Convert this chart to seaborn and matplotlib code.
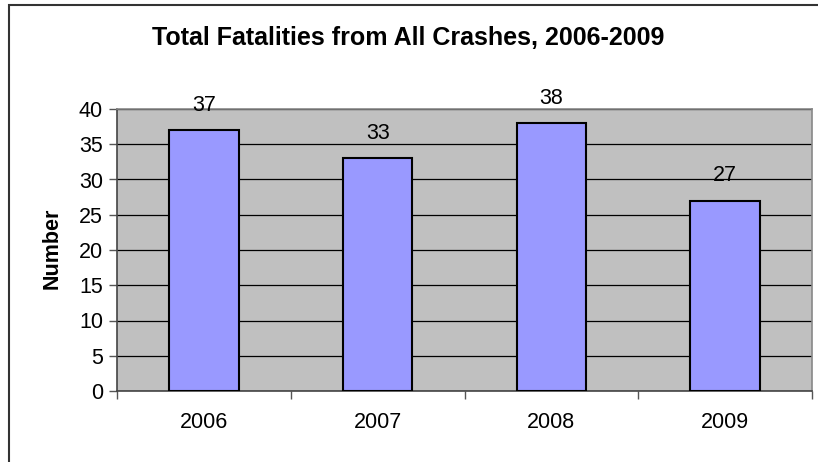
import matplotlib
matplotlib.use("Agg")
import matplotlib.pyplot as plt
import seaborn as sns
import pandas as pd
from matplotlib.patches import Rectangle
from matplotlib.ticker import FixedLocator

years = ["2006", "2007", "2008", "2009"]
fatalities = [37, 33, 38, 27]
yticks = [0, 5, 10, 15, 20, 25, 30, 35, 40]

sns.set_style("white")
plt.rcParams["font.family"] = ["Liberation Sans", "DejaVu Sans"]
plt.rcParams["text.color"] = "black"
plt.rcParams["axes.labelcolor"] = "black"
plt.rcParams["xtick.labelcolor"] = "black"
plt.rcParams["ytick.labelcolor"] = "black"

df = pd.DataFrame({"Year": years, "Number": fatalities})

fig = plt.figure(figsize=(8.18, 4.62), dpi=100)
ax = fig.add_axes([117/818, 1-391/462, (812-117)/818, (391-109)/462])
ax.set_facecolor("#C0C0C0")

sns.barplot(data=df, x="Year", y="Number", color="#9999FF", width=0.40,
            edgecolor="black", linewidth=1.5, saturation=1, ax=ax, zorder=3)

ax.set_ylim(0, 40)
ax.set_xlim(-0.5, 3.5)
ax.set_yticks(yticks)
ax.yaxis.grid(True, color="#000000", linewidth=0.9, zorder=1)
ax.set_axisbelow(True)
ax.tick_params(axis="y", which="major", direction="out", length=6, width=1,
               color="#555555", labelsize=15.5, pad=4, left=True,
               labelcolor="black")
ax.tick_params(axis="x", which="major", length=0, labelsize=15.5, pad=15,
               labelcolor="black")
ax.xaxis.set_minor_locator(FixedLocator([-0.5, 0.5, 1.5, 2.5, 3.5]))
ax.tick_params(axis="x", which="minor", direction="out", length=6, width=1,
               color="#555555", bottom=True)

for side in ["top", "right"]:
    ax.spines[side].set_color("#888888")
    ax.spines[side].set_linewidth(1.2)
for side in ["left", "bottom"]:
    ax.spines[side].set_color("#444444")
    ax.spines[side].set_linewidth(1.2)

ax.set_xlabel("")
ax.set_ylabel("Number", fontsize=15.5, fontweight="bold", color="black")
ax.yaxis.label.set_va("center")
ax.yaxis.set_label_coords((52 - 117) / 695, (391 - 248) / 282)

for i, v in enumerate(fatalities):
    ax.annotate(str(v), xy=(i, v), xytext=(0, 18), textcoords="offset points",
                ha="center", va="center", fontsize=15.5, color="black", zorder=5)

fig.text(408/818, 1-38/462, "Total Fatalities from All Crashes, 2006-2009",
         ha="center", va="center", fontsize=18, fontweight="bold", color="black")

fig.patches.append(Rectangle((8.5/818, -0.05), 1.1, 1 - 5/462 + 0.05,
                             transform=fig.transFigure, fill=False,
                             edgecolor="#333333", linewidth=1.5))

fig.savefig("out.png", dpi=100)
